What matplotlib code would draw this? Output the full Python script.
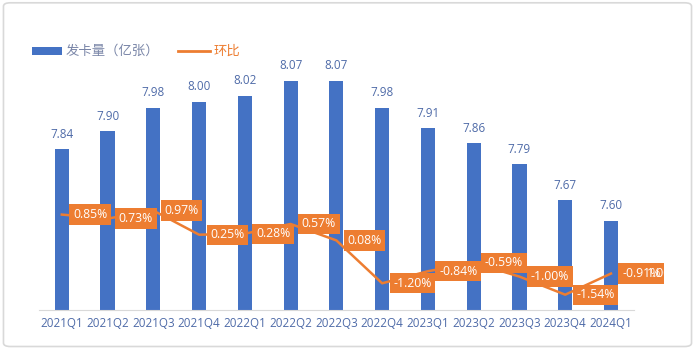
import matplotlib
matplotlib.use("Agg")
import matplotlib.pyplot as plt
from matplotlib.patches import Rectangle, FancyBboxPatch
from matplotlib.lines import Line2D

plt.rcParams['font.family'] = ['Noto Sans CJK SC', 'DejaVu Sans']

categories = ["2021Q1", "2021Q2", "2021Q3", "2021Q4", "2022Q1", "2022Q2", "2022Q3",
              "2022Q4", "2023Q1", "2023Q2", "2023Q3", "2023Q4", "2024Q1"]
cards = [7.84, 7.90, 7.98, 8.00, 8.02, 8.07, 8.07, 7.98, 7.91, 7.86, 7.79, 7.67, 7.60]
qoq = [0.85, 0.73, 0.97, 0.25, 0.28, 0.57, 0.08, -1.20, -0.84, -0.59, -1.00, -1.54, -0.91]
qoq_labels = ["0.85%", "0.73%", "0.97%", "0.25%", "0.28%", "0.57%", "0.08%",
              "-1.20%", "-0.84%", "-0.59%", "-1.00%", "-1.54%", "-0.91%"]

BLUE = "#4472C4"
ORANGE = "#ED7D31"
TXT = "#4F6BA8"
NUMFONT = ['Open Sans', 'DejaVu Sans']

fig = plt.figure(figsize=(6.95, 3.5), dpi=100)
fig.patches.append(FancyBboxPatch((0.005, 0.01), 0.99, 0.982, boxstyle="round,pad=0,rounding_size=0.01",
                                  transform=fig.transFigure, fill=False, edgecolor="#D9D9D9", linewidth=1.2))

ax = fig.add_axes([0.056, 0.114, 0.856, 0.766])
x = list(range(len(categories)))
ax.bar(x, cards, width=0.31, color=BLUE, zorder=2)
ax.set_xlim(-0.5, len(categories) - 0.5)
ax.set_ylim(7.3, 8.2)
ax.set_yticks([])
for s in ["top", "right", "left"]:
    ax.spines[s].set_visible(False)
ax.spines["bottom"].set_color("#D9D9D9")
ax.set_xticks(x)
ax.set_xticklabels(categories, fontsize=8.4, color=TXT, family=NUMFONT)
ax.tick_params(axis='x', length=0, pad=5)
for xi, v in zip(x, cards):
    ax.annotate(f"{v:.2f}", (xi, v), xytext=(0, 6), textcoords="offset points",
                ha="center", va="bottom", fontsize=8.4, color=TXT, family=NUMFONT)

ax2 = ax.twinx()
ax2.set_ylim(-2, 6)
ax2.axis("off")
ax2.plot(x, qoq, color=ORANGE, linewidth=1.8, zorder=3)
for xi, v, lab in zip(x, qoq, qoq_labels):
    ax2.annotate(lab, (xi, v), xytext=(8, 0), textcoords="offset points",
                 ha="left", va="center", fontsize=8.8, color="white", family=NUMFONT,
                 bbox=dict(boxstyle="square,pad=0.3", fc=ORANGE, ec="none"), zorder=4)
ax2.annotate("1.00", (x[-1], qoq[-1]), xytext=(26, 0), textcoords="offset points",
             ha="left", va="center", fontsize=8.8, color="white", family=NUMFONT, zorder=5,
             bbox=dict(boxstyle="square,pad=0.3", fc="none", ec="none"))

# legend
fig.patches.append(Rectangle((32 / 695, 1 - 55 / 350), 30 / 695, 8 / 350, transform=fig.transFigure,
                             facecolor=BLUE, edgecolor="none"))
fig.text(66 / 695, 1 - 51 / 350, "发卡量（亿张）", fontsize=9.6, color="#7A86A8", va="center", ha="left")
fig.lines.append(Line2D([178 / 695, 210 / 695], [1 - 51 / 350, 1 - 51 / 350], transform=fig.transFigure,
                        color=ORANGE, linewidth=2))
fig.text(214 / 695, 1 - 51 / 350, "环比", fontsize=9.6, color=ORANGE, va="center", ha="left")

fig.savefig("out.png", dpi=100)
